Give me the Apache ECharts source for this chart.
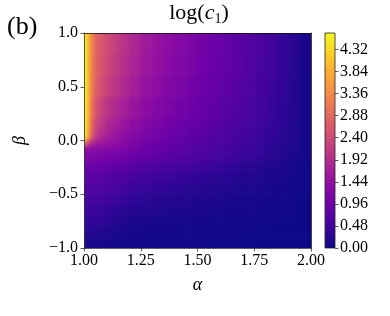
<!DOCTYPE html>
<html><head><meta charset="utf-8">
<script src="https://cdn.jsdelivr.net/npm/echarts@6/dist/echarts.min.js"></script>
<style>
html,body{margin:0;padding:0;background:#fff;}
#wrap{position:relative;width:390px;height:316px;}
#hmclip{position:absolute;left:84px;top:33px;width:227px;height:215px;overflow:hidden;}
#hm{position:absolute;left:-12px;top:-12px;width:251px;height:239px;filter:blur(2.2px);}
#c{position:absolute;left:0;top:0;width:390px;height:316px;}
</style>
</head><body><div id="wrap"><div id="hmclip"><div id="hm"></div></div><div id="c"></div></div>
<script>
// cell edges (alpha: left->right, beta: top->bottom)
const alphaEdges = [1.00,1.005,1.01,1.02,1.03,1.04,1.05,1.06,1.08,1.10,1.13,1.16,1.20,1.25,1.30,1.35,1.40,1.45,1.50,1.55,1.60,1.65,1.70,1.75,1.80,1.85,1.90,1.95,2.00];
const betaEdges = [1.0,0.8,0.6,0.4,0.2,0.1,0.05,0.0,-0.05,-0.1,-0.2,-0.3,-0.4,-0.5,-0.6,-0.7,-0.8,-0.9,-1.0];
// log(c1) values, one array per beta band (top to bottom)
const b_p090 = [4.65,4.5,4.2,3.6,3.2,2.95,2.8,2.65,2.5,2.35,2.18,2.0,1.8,1.62,1.48,1.36,1.25,1.15,1.05,0.96,0.87,0.78,0.68,0.58,0.47,0.36,0.24,0.1];
const b_p070 = [4.65,4.5,4.2,3.58,3.18,2.93,2.77,2.62,2.46,2.28,2.11,1.94,1.75,1.57,1.44,1.32,1.21,1.12,1.02,0.93,0.84,0.76,0.66,0.56,0.46,0.35,0.23,0.1];
const b_p050 = [4.65,4.5,4.2,3.55,3.13,2.86,2.7,2.53,2.32,2.16,2.01,1.84,1.66,1.49,1.36,1.25,1.15,1.06,0.97,0.88,0.8,0.72,0.63,0.53,0.43,0.33,0.22,0.09];
const b_p030 = [4.65,4.5,4.2,3.45,3.0,2.7,2.5,2.32,2.12,1.97,1.83,1.68,1.51,1.36,1.24,1.14,1.05,0.97,0.88,0.81,0.73,0.66,0.57,0.49,0.39,0.3,0.2,0.08];
const b_p015 = [4.65,4.5,4.15,3.3,2.8,2.5,2.3,2.15,1.98,1.79,1.66,1.52,1.37,1.23,1.12,1.03,0.95,0.87,0.8,0.73,0.66,0.59,0.52,0.44,0.36,0.27,0.18,0.08];
const b_p0075 = [4.6,4.45,4.1,3.2,2.65,2.35,2.15,2.0,1.84,1.67,1.55,1.42,1.28,1.15,1.05,0.97,0.89,0.82,0.75,0.68,0.62,0.55,0.48,0.41,0.33,0.26,0.17,0.07];
const b_p0025 = [4.55,4.35,3.9,3.05,2.5,2.2,2.02,1.88,1.74,1.6,1.48,1.36,1.22,1.1,1.01,0.92,0.85,0.78,0.71,0.65,0.59,0.53,0.46,0.39,0.32,0.24,0.16,0.07];
const b_m0025 = [3.3,2.9,2.4,2.0,1.8,1.7,1.64,1.58,1.53,1.49,1.4,1.28,1.15,1.04,0.95,0.87,0.8,0.74,0.67,0.61,0.56,0.5,0.44,0.37,0.3,0.23,0.15,0.06];
const b_m0075 = [1.55,1.5,1.46,1.42,1.4,1.38,1.37,1.35,1.33,1.3,1.25,1.17,1.07,0.97,0.89,0.82,0.75,0.69,0.63,0.58,0.52,0.47,0.41,0.35,0.28,0.22,0.14,0.06];
const b_m015 = [1.2,1.19,1.18,1.17,1.16,1.15,1.14,1.13,1.11,1.09,1.05,1.0,0.93,0.86,0.8,0.74,0.68,0.63,0.57,0.52,0.47,0.43,0.37,0.32,0.26,0.2,0.13,0.05];
const b_m025 = [0.92,0.92,0.91,0.91,0.9,0.9,0.89,0.88,0.86,0.83,0.79,0.74,0.68,0.62,0.57,0.53,0.49,0.45,0.41,0.38,0.34,0.3,0.26,0.22,0.18,0.14,0.09,0.04];
const b_m035 = [0.77,0.77,0.76,0.76,0.75,0.75,0.74,0.73,0.71,0.68,0.64,0.59,0.53,0.48,0.44,0.4,0.37,0.34,0.31,0.28,0.25,0.22,0.19,0.16,0.13,0.1,0.07,0.03];
const b_m045 = [0.64,0.64,0.63,0.63,0.62,0.62,0.61,0.6,0.58,0.55,0.51,0.46,0.4,0.36,0.33,0.3,0.27,0.24,0.22,0.2,0.18,0.16,0.14,0.12,0.1,0.07,0.05,0.02];
const b_m055 = [0.53,0.53,0.52,0.52,0.51,0.51,0.5,0.49,0.47,0.44,0.4,0.35,0.3,0.27,0.24,0.22,0.2,0.18,0.16,0.15,0.13,0.12,0.1,0.09,0.07,0.05,0.03,0.01];
const b_m065 = [0.43,0.43,0.42,0.42,0.41,0.41,0.4,0.39,0.37,0.34,0.3,0.26,0.22,0.19,0.17,0.16,0.14,0.13,0.12,0.11,0.1,0.09,0.08,0.07,0.05,0.04,0.03,0.01];
const b_m075 = [0.33,0.33,0.33,0.32,0.32,0.31,0.31,0.3,0.28,0.25,0.21,0.17,0.14,0.12,0.11,0.1,0.09,0.08,0.08,0.07,0.06,0.05,0.05,0.04,0.03,0.02,0.02,0.01];
const b_m085 = [0.23,0.23,0.23,0.22,0.22,0.22,0.21,0.2,0.19,0.16,0.13,0.1,0.08,0.07,0.06,0.06,0.05,0.05,0.04,0.04,0.03,0.03,0.03,0.02,0.02,0.01,0.01,0];
const b_m095 = [0.13,0.13,0.13,0.13,0.12,0.12,0.12,0.11,0.11,0.09,0.07,0.06,0.05,0.04,0.04,0.03,0.03,0.03,0.03,0.02,0.02,0.02,0.02,0.01,0.01,0.01,0,0];
const logC1Rows = [b_p090,b_p070,b_p050,b_p030,b_p015,b_p0075,b_p0025,b_m0025,b_m0075,b_m015,b_m025,b_m035,b_m045,b_m055,b_m065,b_m075,b_m085,b_m095];

const xTicks = [1.00,1.25,1.50,1.75,2.00];
const yTicks = [-1.0,-0.5,0.0,0.5,1.0];
const cbTicks = [0.00,0.48,0.96,1.44,1.92,2.40,2.88,3.36,3.84,4.32];
const cbMin = 0, cbMax = 4.68;
const plasma = ['#0d0887','#41049d','#6a00a8','#8f0da4','#b12a90','#cc4778','#e16462','#f2844b','#fca636','#fcce25','#f0f921'];

const cells = [];
logC1Rows.forEach((row, i) => {
  row.forEach((v, j) => {
    cells.push([alphaEdges[j], alphaEdges[j+1], betaEdges[i+1], betaEdges[i], v]);
  });
});
const aMin = alphaEdges[0], aMax = alphaEdges[alphaEdges.length-1];
const bMax = betaEdges[0], bMin = betaEdges[betaEdges.length-1];

const FONT = "'Liberation Serif','DejaVu Serif',serif";

// heat map layer (drawn underneath, softened)
const PAD = 12;
const hm = echarts.init(document.getElementById('hm'), null, {renderer:'canvas'});
hm.setOption({
  animation:false,
  grid:{left:PAD, top:PAD, width:227, height:215, show:false},
  xAxis:{type:'value', min:aMin, max:aMax, show:false},
  yAxis:{type:'value', min:bMin, max:bMax, show:false},
  visualMap:{show:false, type:'continuous', min:cbMin, max:cbMax, dimension:4, seriesIndex:0, inRange:{color:plasma}},
  series:[{
    type:'custom', clip:false, data:cells, encode:{x:[0,1], y:[2,3]},
    renderItem:function(params, api){
      const x0 = api.value(0), x1 = api.value(1), y0 = api.value(2), y1 = api.value(3);
      const p0 = api.coord([x0, y1]);
      const p1 = api.coord([x1, y0]);
      let L = p0[0], T = p0[1], R = p1[0] + 0.6, B = p1[1] + 0.6;
      if (x0 === aMin) L -= PAD;
      if (x1 === aMax) R += PAD;
      if (y1 === bMax) T -= PAD;
      if (y0 === bMin) B += PAD;
      return {type:'rect', shape:{x:L, y:T, width:R-L, height:B-T}, style:{fill:api.visual('color')}};
    }
  }]
});

// axes, colour bar and texts
const chart = echarts.init(document.getElementById('c'), null, {renderer:'canvas'});
const cbStops = plasma.map((c, k) => ({offset: 1 - k/(plasma.length-1), color: c})).reverse();
chart.setOption({
  animation: false,
  backgroundColor: 'transparent',
  grid: [
    {left: 84, top: 33, width: 227, height: 215, show: false},
    {left: 325, top: 33, width: 10, height: 215, show: true,
     backgroundColor: {type:'linear', x:0, y:0, x2:0, y2:1, colorStops: cbStops},
     borderColor: '#222', borderWidth: 0.8}
  ],
  xAxis: [
    {type:'value', gridIndex:0, min:aMin, max:aMax, interval:0.25, z:5,
     axisLine:{show:true, onZero:false, lineStyle:{color:'#333', width:0.8}},
     axisTick:{show:true, length:3.5, customValues: xTicks, lineStyle:{color:'#333', width:0.8}},
     splitLine:{show:false},
     axisLabel:{color:'#000', fontFamily:FONT, fontSize:16, margin:5, customValues: xTicks, formatter: v => v.toFixed(2)},
     name:'α', nameLocation:'middle', nameGap:28,
     nameTextStyle:{color:'#000', fontFamily:FONT, fontSize:18, fontStyle:'italic'}},
    {type:'value', gridIndex:0, min:aMin, max:aMax, position:'top', z:5,
     axisLine:{show:true, onZero:false, lineStyle:{color:'#111', width:0.8}},
     axisTick:{show:false}, axisLabel:{show:false}, splitLine:{show:false}},
    {type:'value', gridIndex:1, min:0, max:1, show:false}
  ],
  yAxis: [
    {type:'value', gridIndex:0, min:bMin, max:bMax, interval:0.5, z:5,
     axisLine:{show:true, onZero:false, lineStyle:{color:'#333', width:0.8}},
     axisTick:{show:true, length:3.5, customValues: yTicks, lineStyle:{color:'#333', width:0.8}},
     splitLine:{show:false},
     axisLabel:{color:'#000', fontFamily:FONT, fontSize:16, margin:6, customValues: yTicks,
       formatter: v => (v < 0 ? '\u2212' : '') + Math.abs(v).toFixed(1)},
     name:'β', nameLocation:'middle', nameGap:55, nameRotate:90,
     nameTextStyle:{color:'#000', fontFamily:FONT, fontSize:18, fontStyle:'italic'}},
    {type:'value', gridIndex:0, min:bMin, max:bMax, position:'right', z:5,
     axisLine:{show:true, onZero:false, lineStyle:{color:'#111', width:0.8}},
     axisTick:{show:false}, axisLabel:{show:false}, splitLine:{show:false}},
    {type:'value', gridIndex:1, min:cbMin, max:cbMax, position:'right',
     axisLine:{show:false, onZero:false},
     axisTick:{show:true, length:3.5, customValues: cbTicks, lineStyle:{color:'#333', width:0.8}},
     splitLine:{show:false},
     axisLabel:{color:'#000', fontFamily:FONT, fontSize:16, margin:5, customValues: cbTicks, formatter: v => v.toFixed(2)}}
  ],
  graphic: [
    {type:'text', left: 7, top: 14, style:{text:'(b)', font: "26px " + FONT, fill:'#000'}},
    {type:'text', x: 199, y: 13, style:{
      text:'{n|log(}{i|c}{s|1}{n|)}', align:'center', verticalAlign:'middle',
      rich:{
        n:{fontFamily:FONT, fontSize:22, lineHeight:26, fill:'#000'},
        i:{fontFamily:FONT, fontSize:22, lineHeight:26, fontStyle:'italic', fill:'#000'},
        s:{fontFamily:FONT, fontSize:14, lineHeight:15, verticalAlign:'bottom', fill:'#000'}
      }}}
  ]
});
</script></body></html>
